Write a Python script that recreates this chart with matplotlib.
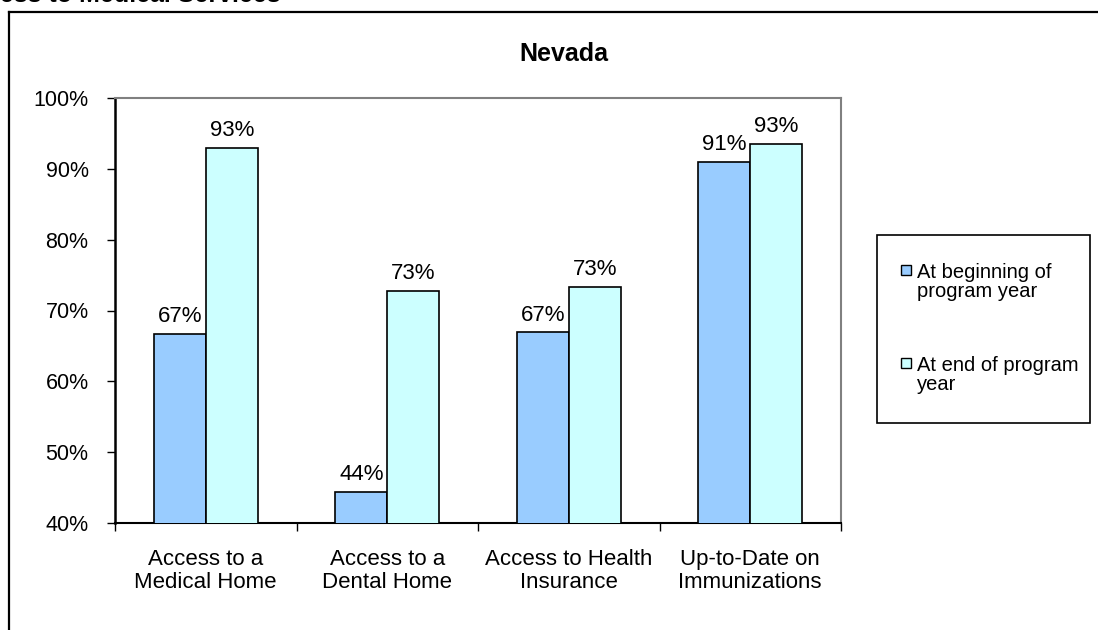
import numpy as np
import matplotlib
matplotlib.use('Agg')
import matplotlib.pyplot as plt
from matplotlib.patches import Rectangle
from matplotlib.lines import Line2D

plt.rcParams['font.family'] = ['Liberation Sans', 'DejaVu Sans']

categories = ['Access to a\nMedical Home', 'Access to a\nDental Home',
              'Access to Health\nInsurance', 'Up-to-Date on\nImmunizations']
begin_vals = [66.7, 44.4, 66.9, 91.0]
end_vals = [92.9, 72.8, 73.3, 93.5]
begin_lbls = ['67%', '44%', '67%', '91%']
end_lbls = ['93%', '73%', '73%', '93%']
series_names = ['At beginning of\nprogram year', 'At end of program\nyear']
yticks = [40, 50, 60, 70, 80, 90, 100]

W, H = 1098, 630
fig = plt.figure(figsize=(W / 100, H / 100), dpi=100)
fig.patch.set_facecolor('white')

# outer chart frame (cut off on right/bottom)
fig.add_artist(Line2D([9 / W, 9 / W], [0, 1 - 12 / H], color='black', lw=1.6, transform=fig.transFigure))
fig.add_artist(Line2D([9 / W, 1], [1 - 12 / H, 1 - 12 / H], color='black', lw=1.6, transform=fig.transFigure))

# clipped heading at the very top
fig.text(281 / W, 1 - 2 / H, 'Access to Medical Services', ha='right', va='baseline',
         fontsize=18, fontweight='bold')

ax = fig.add_axes([115 / W, 1 - 523 / H, (841 - 115) / W, (523 - 98) / H])

x = np.arange(len(categories))
bw = 0.2865
b1 = ax.bar(x - bw / 2, begin_vals, bw, color='#99CCFF', edgecolor='black', lw=1.2, zorder=3)
b2 = ax.bar(x + bw / 2, end_vals, bw, color='#CCFFFF', edgecolor='black', lw=1.2, zorder=3)

for bars, lbls in [(b1, begin_lbls), (b2, end_lbls)]:
    for r, t in zip(bars, lbls):
        ax.annotate(t, (r.get_x() + r.get_width() / 2, r.get_height()), xytext=(0, 5),
                    textcoords='offset points', ha='center', va='bottom', fontsize=16)

ax.set_ylim(40, 100)
ax.set_xlim(-0.5, 3.5)
ax.set_yticks(yticks)
ax.set_yticklabels(['%d%%' % v for v in yticks])
ax.tick_params(axis='y', direction='out', length=6, width=1, pad=13, labelsize=15.5)

ax.set_xticks(np.arange(len(categories) + 1) - 0.5)
ax.set_xticklabels([])
ax.tick_params(axis='x', which='major', direction='out', length=6, width=1)
ax.set_xticks(x, minor=True)
ax.set_xticklabels(categories, minor=True, fontsize=16, linespacing=1.1)
ax.tick_params(axis='x', which='minor', length=0, pad=19)

ax.spines['left'].set_linewidth(1.8)
ax.spines['bottom'].set_linewidth(1.5)
for s in ['top', 'right']:
    ax.spines[s].set_color('#808080')
    ax.spines[s].set_linewidth(1.5)

fig.text(564 / W, 1 - 54 / H, 'Nevada', ha='center', va='center', fontsize=18, fontweight='bold')

# legend box
fig.add_artist(Rectangle((877 / W, 1 - 423 / H), (1090 - 877) / W, (423 - 235) / H,
                         transform=fig.transFigure, fill=False, edgecolor='black', lw=1.2))
for name, col, ys in [(series_names[0], '#99CCFF', 270), (series_names[1], '#CCFFFF', 363)]:
    fig.add_artist(Rectangle((901 / W, 1 - (ys + 5) / H), 10 / W, 10 / H, transform=fig.transFigure,
                             facecolor=col, edgecolor='black', lw=1.0))
    fig.text(917 / W, 1 - (ys + 27) / H, name, ha='left', va='baseline', fontsize=14.5,
             linespacing=1.0)

fig.savefig('out.png', dpi=100)
